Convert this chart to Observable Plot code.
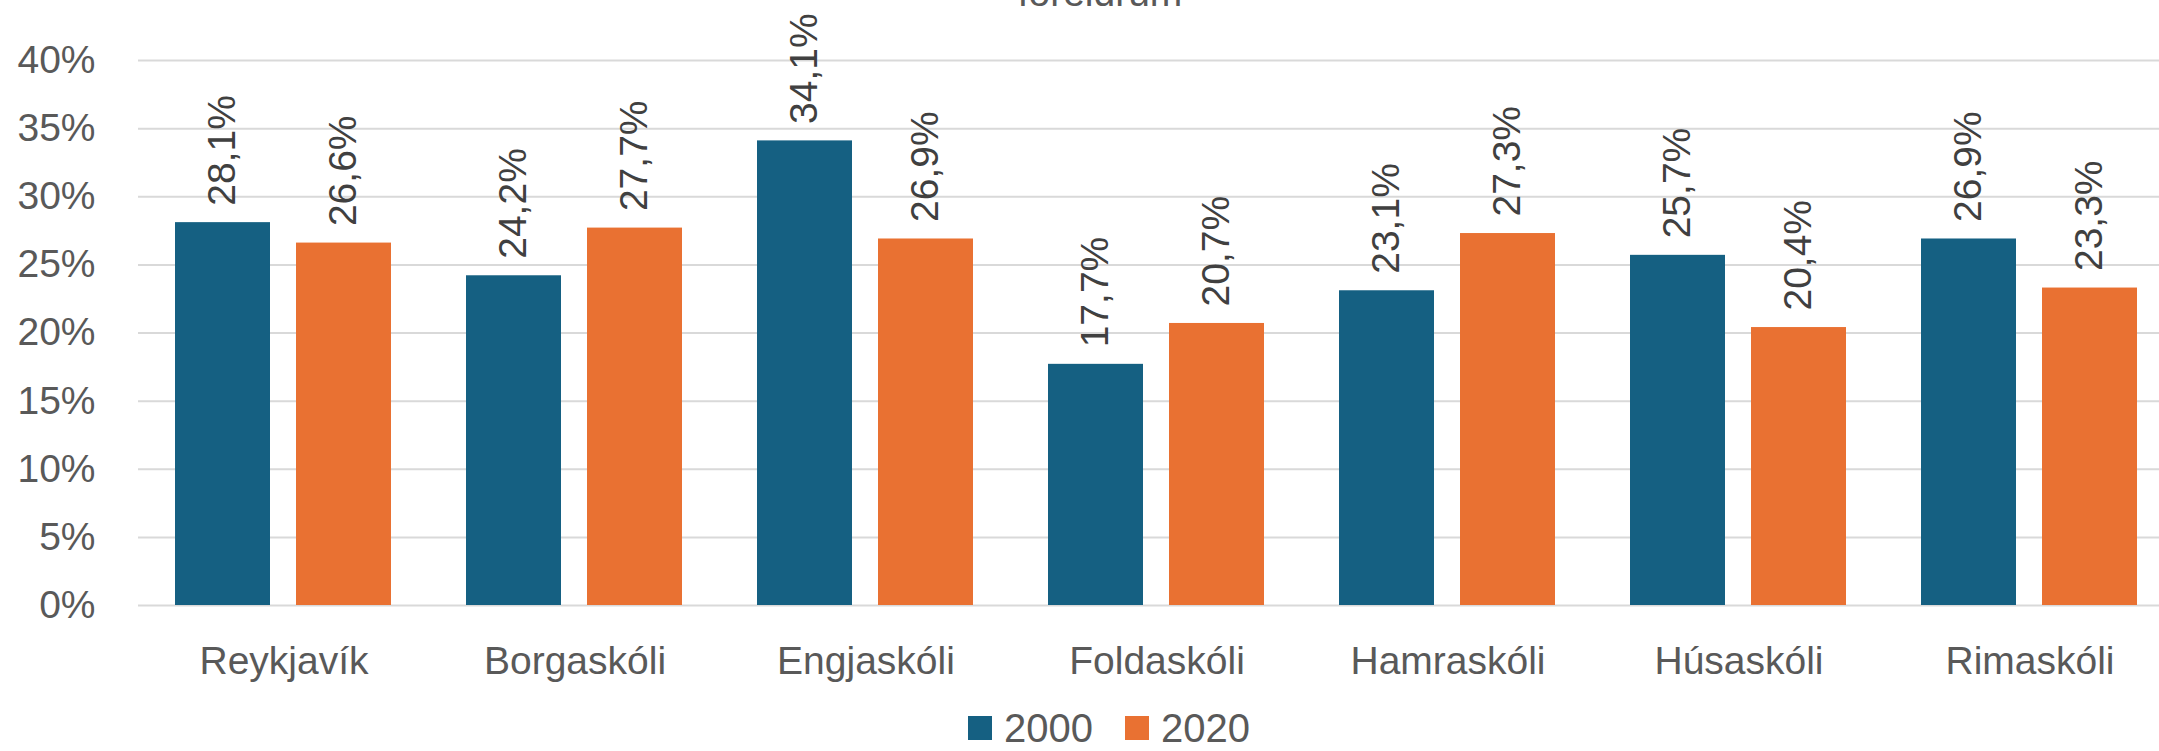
<!DOCTYPE html>
<html>
<head>
<meta charset="utf-8">
<script src="https://cdn.jsdelivr.net/npm/d3@7"></script>
<script src="https://cdn.jsdelivr.net/npm/@observablehq/plot@0.6"></script>
<style>
  html, body { margin: 0; padding: 0; background: #fff; overflow: hidden; }
  #wrap { position: relative; width: 2159px; height: 751px; overflow: hidden; font-family: "Liberation Sans", Arial, sans-serif; }
  #title { position: absolute; top: -27px; left: 1100px; transform: translateX(-50%); font-size: 39px; line-height: 1; color: #595959; white-space: nowrap; }
  #legend { position: absolute; top: 710px; left: 968px; display: flex; align-items: center; font-size: 40px; line-height: 36px; color: #595959; }
  #legend .sw { width: 24px; height: 24px; display: inline-block; margin-right: 12px; }
  #legend .item { display: flex; align-items: center; margin-right: 32px; }
  #chart { position: absolute; top: 0; left: 0; width: 2176px; }
  #chart svg { max-width: none !important; }
</style>
</head>
<body>
<div id="wrap">
  <div id="chart"></div>
  <div id="title">foreldrum</div>
  <div id="legend"></div>
</div>
<script>
const schools = ["Reykjavík", "Borgaskóli", "Engjaskóli", "Foldaskóli", "Hamraskóli", "Húsaskóli", "Rimaskóli"];
const years = ["2000", "2020"];
const values2000 = [28.1, 24.2, 34.1, 17.7, 23.1, 25.7, 26.9];
const values2020 = [26.6, 27.7, 26.9, 20.7, 27.3, 20.4, 23.3];
const yTicks = [0, 5, 10, 15, 20, 25, 30, 35, 40];
const colors = ["#156082", "#E97132"];

const data = [];
schools.forEach((s, i) => {
  data.push({school: s, year: years[0], value: values2000[i]});
  data.push({school: s, year: years[1], value: values2020[i]});
});
const fmt = v => v.toFixed(1).replace(".", ",") + "%";

const chart = Plot.plot({
  width: 2176,
  height: 700,
  marginLeft: 136,
  marginRight: 0,
  marginTop: 60,
  marginBottom: 95,
  style: {fontFamily: "Liberation Sans, Arial, sans-serif", fontSize: "39px", color: "#595959", background: "transparent", maxWidth: "none"},
  fx: {domain: schools, padding: 0, label: null, tickSize: 0, tickPadding: 41},
  x: {domain: years, paddingInner: 0.213, paddingOuter: 0.301, axis: null},
  y: {domain: [0, 40], ticks: yTicks, tickFormat: d => d + "%", tickSize: 0, tickPadding: 43, label: null},
  color: {domain: years, range: colors},
  marks: [
    Plot.ruleY(yTicks, {stroke: "#d9d9d9", strokeWidth: 2}),
    Plot.barY(data, {fx: "school", x: "year", y: "value", fill: "year"}),
    Plot.text(data, {fx: "school", x: "year", y: "value", text: d => fmt(d.value), rotate: -90, textAnchor: "start", dy: -17, fill: "#404040", fontSize: 39})
  ]
});
chart.style.maxWidth = "none";
document.getElementById("chart").appendChild(chart);

const legend = document.getElementById("legend");
years.forEach((y, i) => {
  const item = document.createElement("div");
  item.className = "item";
  const sw = document.createElement("span");
  sw.className = "sw";
  sw.style.background = colors[i];
  item.appendChild(sw);
  item.appendChild(document.createTextNode(y));
  legend.appendChild(item);
});
</script>
</body>
</html>
